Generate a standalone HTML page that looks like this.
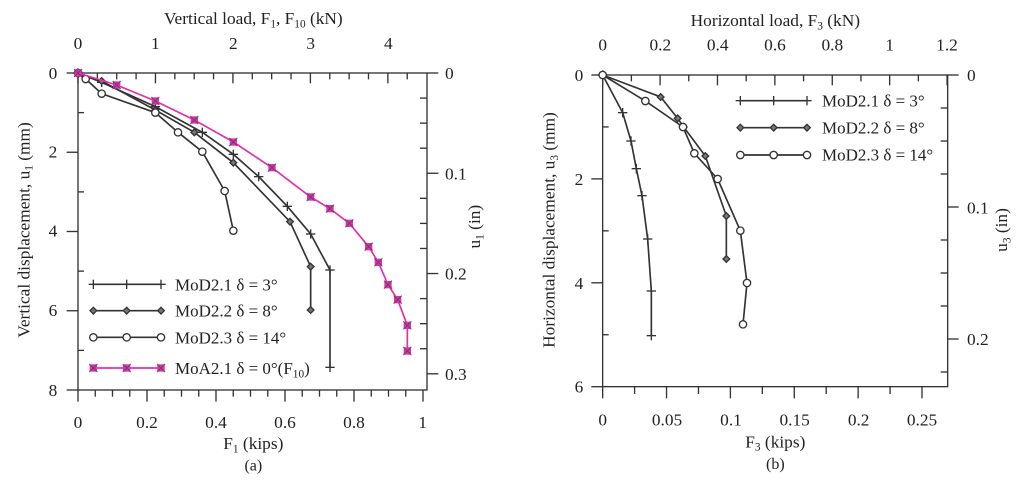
<!DOCTYPE html>
<html><head><meta charset="utf-8"><style>
html,body{margin:0;padding:0;background:#fff;}
svg{display:block;font-family:"Liberation Serif",serif;}
text{fill:#222;}
</style></head><body>
<svg id="s" width="1024" height="483" viewBox="0 0 1024 483">
<g id="L" transform="scale(0.33333)" font-size="52">
  <rect x="234" y="219" width="1047" height="951" fill="none" stroke="#333" stroke-width="4"/>
  <text x="760" y="72" text-anchor="middle" font-size="52">Vertical load, F<tspan font-size="34" dy="10">1</tspan><tspan dy="-10">, F</tspan><tspan font-size="34" dy="10">10</tspan><tspan dy="-10"> (kN)</tspan></text>
  <g text-anchor="middle">
    <text x="234" y="147">0</text><text x="466" y="147">1</text><text x="700" y="147">2</text><text x="932" y="147">3</text><text x="1165" y="147">4</text>
    <text x="234" y="1284">0</text><text x="441" y="1284">0.2</text><text x="648" y="1284">0.4</text><text x="855" y="1284">0.6</text><text x="1062" y="1284">0.8</text><text x="1268" y="1284">1</text>
    <text x="760" y="1347" font-size="52">F<tspan font-size="34" dy="10">1</tspan><tspan dy="-10"> (kips)</tspan></text>
    <text x="760" y="1412" font-size="48">(a)</text>
  </g>
  <g text-anchor="end">
    <text x="172" y="237">0</text><text x="172" y="473">2</text><text x="172" y="710">4</text><text x="172" y="948">6</text><text x="172" y="1188">8</text>
  </g>
  <g>
    <text x="1335" y="237">0</text><text x="1335" y="538">0.1</text><text x="1335" y="838">0.2</text><text x="1335" y="1140">0.3</text>
  </g>
  <text transform="translate(88,690) rotate(-90)" text-anchor="middle" font-size="52">Vertical displacement, u<tspan font-size="34" dy="10">1</tspan><tspan dy="-10"> (mm)</tspan></text>
  <text transform="translate(1440,680) rotate(-90)" text-anchor="middle" font-size="52">u<tspan font-size="34" dy="10">1</tspan><tspan dy="-10"> (in)</tspan></text>
  <g font-size="51">
    <text x="525" y="871">MoD2.1 δ = 3°</text>
    <text x="525" y="950">MoD2.2 δ = 8°</text>
    <text x="525" y="1030">MoD2.3 δ = 14°</text>
    <text x="525" y="1122">MoA2.1 δ = 0°(F<tspan font-size="34" dy="10">10</tspan><tspan dy="-10">)</tspan></text>
  </g>
</g>
<g id="R" transform="translate(512,0) scale(0.33333)" font-size="52">
  <rect x="272" y="225" width="1035" height="935" fill="none" stroke="#333" stroke-width="4"/>
  <text x="790" y="78" text-anchor="middle" font-size="52">Horizontal load, F<tspan font-size="34" dy="10">3</tspan><tspan dy="-10"> (kN)</tspan></text>
  <g text-anchor="middle">
    <text x="272" y="152">0</text><text x="445" y="152">0.2</text><text x="617" y="152">0.4</text><text x="789" y="152">0.6</text><text x="961" y="152">0.8</text><text x="1133" y="152">1</text><text x="1305" y="152">1.2</text>
    <text x="272" y="1277">0</text><text x="465" y="1277">0.05</text><text x="657" y="1277">0.1</text><text x="848" y="1277">0.15</text><text x="1040" y="1277">0.2</text><text x="1230" y="1277">0.25</text>
    <text x="790" y="1342" font-size="52">F<tspan font-size="34" dy="10">3</tspan><tspan dy="-10"> (kips)</tspan></text>
    <text x="790" y="1407" font-size="48">(b)</text>
  </g>
  <g text-anchor="end">
    <text x="214" y="243">0</text><text x="214" y="555">2</text><text x="214" y="867">4</text><text x="214" y="1178">6</text>
  </g>
  <g>
    <text x="1365" y="243">0</text><text x="1365" y="640">0.1</text><text x="1365" y="1035">0.2</text>
  </g>
  <text transform="translate(128,690) rotate(-90)" text-anchor="middle" font-size="52">Horizontal displacement, u<tspan font-size="34" dy="10">3</tspan><tspan dy="-10"> (mm)</tspan></text>
  <text transform="translate(1485,690) rotate(-90)" text-anchor="middle" font-size="52">u<tspan font-size="34" dy="10">3</tspan><tspan dy="-10"> (in)</tspan></text>
  <g font-size="51">
    <text x="930" y="319">MoD2.1 δ = 3°</text>
    <text x="930" y="400">MoD2.2 δ = 8°</text>
    <text x="930" y="482">MoD2.3 δ = 14°</text>
  </g>
</g>
</svg>
<script>
var NS="http://www.w3.org/2000/svg";
function el(g,n,a){var e=document.createElementNS(NS,n);for(var k in a)e.setAttribute(k,a[k]);document.getElementById(g).appendChild(e);return e;}
function line(g,x1,y1,x2,y2,w,c){el(g,"line",{x1:x1,y1:y1,x2:x2,y2:y2,stroke:c||"#333","stroke-width":w||4});}
function marker(g,t,x,y){
 if(t=="+"){line(g,x-14,y,x+14,y,4);line(g,x,y-14,x,y+14,4);}
 else if(t=="d"){el(g,"polygon",{points:(x)+","+(y-10)+" "+(x+10)+","+y+" "+x+","+(y+10)+" "+(x-10)+","+y,fill:"#777",stroke:"#333","stroke-width":4});}
 else if(t=="o"){el(g,"circle",{cx:x,cy:y,r:11,fill:"#fff",stroke:"#333","stroke-width":4});}
 else if(t=="*"){el(g,"rect",{x:x-9,y:y-9,width:18,height:18,fill:"#b0509c",stroke:"#e030a8","stroke-width":4});
   line(g,x-12,y-12,x+12,y+12,3,"#8a2a78");line(g,x-12,y+12,x+12,y-12,3,"#8a2a78");}
}
function series(g,pts,t,c){
 el(g,"polyline",{points:pts.map(function(p){return p.join(",")}).join(" "),fill:"none",stroke:c||"#333","stroke-width":5});
 pts.forEach(function(p){marker(g,t,p[0],p[1]);});
}
var i,x,y;
for(i=0;i<=17;i++){x=234+i*58.1;line("L",x,219,x,i%4==0?250:238,4);}
for(i=0;i<=20;i++){x=234+i*51.75;line("L",x,1170,x,i%4==0?1205:1190,4);}
for(i=0;i<=4;i++){y=219+i*237.75;line("L",234,y,200,y,4);}
for(i=0;i<4;i++){y=219+118.9+i*237.75;line("L",234,y,252,y,4);}
for(i=0;i<=12;i++){y=219+i*75.2;if(y<=1170)line("L",1281,y,i%4==0?1315:1260,y,4);}
series("L",[[234,219],[305,247],[466,320],[607,397],[700,463],[776,530],[862,619],[932,702],[990,810],[990,1102]],"+");
series("L",[[234,219],[305,243],[466,330],[583,397],[700,488],[870,665],[932,800],[932,930]],"d");
series("L",[[234,219],[257,237],[305,281],[466,338],[534,397],[607,455],[674,573],[700,692]],"o");
series("L",[[234,219],[350,255],[466,303],[583,360],[700,426],[816,503],[932,591],[990,626],[1048,670],[1106,740],[1135,787],[1164,854],[1193,899],[1222,976],[1222,1053]],"*","#e030a8");
series("L",[[280,853],[380,853],[483,853]],"+");
series("L",[[280,932],[380,932],[483,932]],"d");
series("L",[[280,1012],[380,1012],[483,1012]],"o");
series("L",[[280,1104],[380,1104],[483,1104]],"*","#e030a8");
for(i=0;i<=12;i++){x=272+i*86.1;line("R",x,225,x,i%2==0?256:244,4);}
for(i=0;i<=10;i++){x=272+i*95.8;line("R",x,1160,x,i%2==0?1195:1182,4);}
for(i=0;i<=3;i++){y=225+i*311.7;line("R",272,y,238,y,4);}
for(i=0;i<3;i++){y=225+155.8+i*311.7;line("R",272,y,290,y,4);}
for(i=0;i<=9;i++){y=225+i*99;if(y<=1160)line("R",1307,y,i%4==0?1340:1286,y,4);}
series("R",[[272,225],[332,338],[357,423],[373,506],[390,587],[407,717],[418,873],[418,1007]],"+");
series("R",[[272,225],[446,291],[497,355],[515,381],[580,468],[643,648],[643,777]],"d");
series("R",[[272,225],[400,303],[513,381],[547,460],[617,537],[685,692],[705,849],[693,973]],"o");
series("R",[[685,302],[785,302],[885,302]],"+");
series("R",[[685,383],[785,383],[885,383]],"d");
series("R",[[685,465],[785,465],[885,465]],"o");
</script>
</body></html>
